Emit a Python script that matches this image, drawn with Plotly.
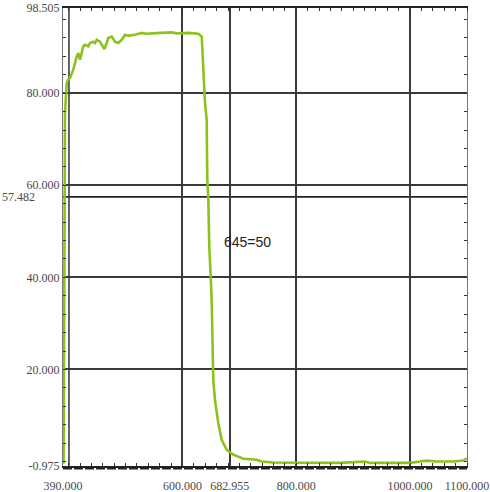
import plotly.graph_objects as go

# Transmission trace (wavelength nm, transmittance %)
wavelength = [
    391.0, 392.0, 393.0, 393.5, 396.5, 399.3, 402.3, 405.3, 408.1, 414.1,
    416.9, 419.9, 422.9, 425.7, 428.7, 434.5, 437.5, 443.3, 446.2, 449.2,
    455.0, 458.0, 462.6, 466.8, 469.6, 475.6, 481.4, 487.2, 493.2, 499.0,
    504.8, 516.5, 528.3, 536.0, 551.7, 562.0, 581.0, 590.0, 610.2, 622.0,
    627.8, 633.8, 636.6, 639.6, 642.5, 643.6, 645.4, 647.1, 649.6, 651.3,
    654.1, 657.1, 662.9, 668.9, 677.7, 689.3, 706.9, 730.4, 739.2, 759.6,
    876.8, 920.7, 930.0, 999.8, 1017.4, 1029.2, 1046.8, 1076.0, 1093.5, 1099.5,
]
transmittance = [
    -0.5, 20.0, 55.0, 75.8, 82.2, 83.0, 83.3, 84.4, 85.1, 88.0,
    88.7, 87.3, 89.1, 90.2, 90.5, 90.2, 90.9, 91.2, 90.9, 91.6,
    91.2, 90.5, 89.6, 90.9, 92.0, 92.3, 91.2, 90.9, 91.6, 92.7,
    92.5, 92.7, 93.1, 92.9, 93.1, 93.1, 93.2, 93.0, 93.1, 92.9,
    92.9, 92.3, 85.1, 77.9, 74.2, 61.2, 56.9, 46.7, 40.2, 35.1,
    17.8, 13.4, 8.3, 4.7, 2.5, 1.5, 0.6, 0.4, 0.0, -0.2,
    -0.3, 0.0, -0.3, -0.3, 0.0, 0.2, 0.0, 0.0, 0.2, 0.7,
]

x_ticks = [390, 600, 682.955, 800, 1000, 1100]
x_labels = ["390.000", "600.000", "682.955", "800.000", "1000.000", "1100.000"]
y_ticks = [-0.975, 20, 40, 60, 80, 98.505]
y_labels = ["-0.975", "20.000", "40.000", "60.000", "80.000", "98.505"]
marker_y = 57.482
axis_x = 400.5
note_text = "645=50"
note_xy = (715, 47.7)

X_RANGE = [390, 1100]
Y_RANGE = [-0.975, 98.505]
GRID = "#3a3a3a"
LABEL = "#4a4a4a"
SERIF = "Liberation Serif, DejaVu Serif, serif"

fig = go.Figure()
fig.add_trace(go.Scatter(
    x=wavelength, y=transmittance, mode="lines",
    line=dict(color="#8cc21c", width=2.6), showlegend=False, hoverinfo="skip",
))

# extra reference lines: the 57.482 level and the offset y-axis line
fig.add_shape(type="line", xref="paper", x0=0, x1=1, yref="y", y0=marker_y, y1=marker_y,
              line=dict(color="#222", width=1.8), layer="below")
fig.add_shape(type="line", xref="x", x0=axis_x, x1=axis_x, yref="paper", y0=0, y1=1,
              line=dict(color="#333", width=1.5), layer="below")
# dashed tick band under the x axis
fig.add_shape(type="line", xref="paper", x0=0, x1=1, yref="paper", y0=-0.006, y1=-0.006,
              line=dict(color="#222", width=1.5, dash="9px,2px"))

fig.add_annotation(x=0, xref="paper", xshift=-63, xanchor="left", y=marker_y, yref="y",
                   text=f"{marker_y:.3f}", showarrow=False,
                   font=dict(family=SERIF, size=12, color=LABEL))
fig.add_annotation(x=note_xy[0], y=note_xy[1], text=note_text, showarrow=False,
                   font=dict(family="Liberation Sans, Arial, sans-serif", size=14, color="#222"))

fig.update_xaxes(
    range=X_RANGE, tickmode="array", tickvals=x_ticks, ticktext=x_labels,
    showgrid=True, gridcolor=GRID, gridwidth=1.5,
    showline=True, linecolor="#222", linewidth=1.5, mirror="ticks",
    ticks="", ticklabelstandoff=8, zeroline=False,
    tickfont=dict(family=SERIF, size=12, color=LABEL),
    minor=dict(tickmode="linear", tick0=400, dtick=20, ticks="inside", ticklen=3,
               tickcolor="#333", showgrid=False),
    automargin=False,
)
fig.update_yaxes(
    range=Y_RANGE, tickmode="array", tickvals=y_ticks, ticktext=y_labels,
    showgrid=True, gridcolor=GRID, gridwidth=1.5,
    showline=True, linecolor="#777", linewidth=1, mirror="ticks",
    ticks="", zeroline=False,
    tickfont=dict(family=SERIF, size=12, color=LABEL),
    minor=dict(tickmode="linear", tick0=0, dtick=4, ticks="inside", ticklen=3,
               tickcolor="#333", showgrid=False),
    automargin=False,
)
fig.update_layout(
    width=490, height=492,
    margin=dict(l=63, r=23, t=8, b=26),
    paper_bgcolor="white", plot_bgcolor="white",
)

# drop the default 8px body margin so the figure fills the window exactly
fig.write_html("out.html", config={"displayModeBar": False},
               post_script="document.body.style.margin = '0';")
